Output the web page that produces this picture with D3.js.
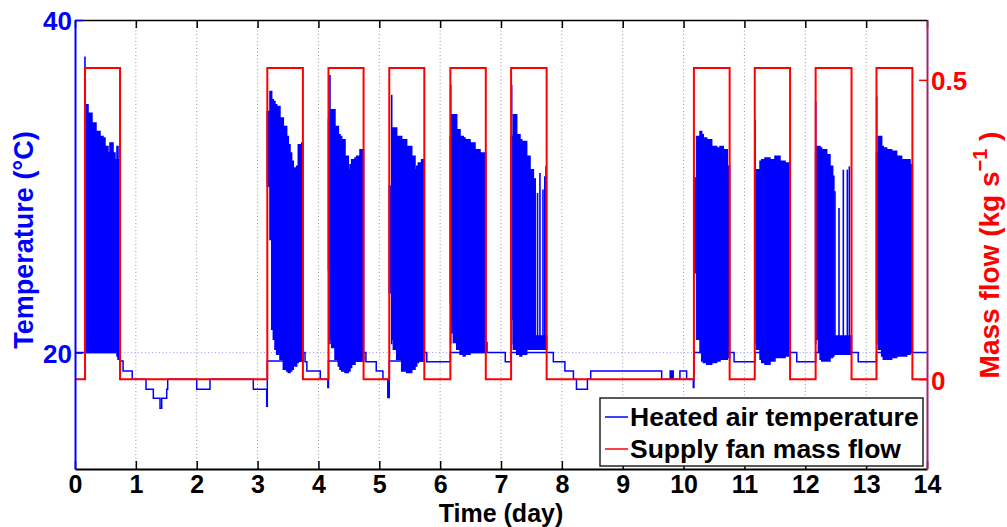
<!DOCTYPE html>
<html>
<head>
<meta charset="utf-8">
<style>
  body { margin: 0; background: #fff; }
  svg { display: block; font-family: 'Liberation Sans', Arial, sans-serif; font-weight: bold; }
</style>
</head>
<body>
<script src="https://d3js.org/d3.v7.min.js"></script>
<script>
// tick labels
const dayTicks = [0, 1, 2, 3, 4, 5, 6, 7, 8, 9, 10, 11, 12, 13, 14];
const tempTicks = [20, 40];
const flowTicks = [0, 0.5];

// supply fan on/off (day start, day end) and flow when on
const fanOn = [[0.165, 0.74], [3.16, 3.745], [4.165, 4.742], [5.164, 5.74], [6.168, 6.75],
               [7.166, 7.75], [10.17, 10.757], [11.17, 11.75], [12.17, 12.76], [13.17, 13.76]];
const fanFlow = 0.52;

// heated air temperature while fan is off (day, degC), stepwise
const tempSteps = [
  [0, 20.0], [0.165, 20.0], [0.74, 19.5], [0.79, 18.9], [0.94, 18.4], [1.167, 17.8],
  [1.287, 17.25], [1.397, 16.65], [1.425, 17.25], [1.507, 17.8], [1.523, 18.4], [2.0, 17.8],
  [2.218, 18.4], [2.93, 17.8], [3.15, 16.77], [3.16, 19.5], [3.745, 20.0], [3.78, 19.45],
  [3.81, 18.9], [4.03, 18.4], [4.155, 17.9], [4.165, 19.5], [4.742, 20.0], [4.78, 19.45],
  [4.95, 18.9], [5.06, 18.4], [5.14, 17.3], [5.164, 19.5], [5.74, 20.0], [5.78, 19.45],
  [6.168, 20.0], [6.75, 20.6], [6.77, 20.0], [7.07, 19.45], [7.166, 20.0], [7.75, 20.0],
  [7.86, 19.45], [8.05, 18.9], [8.19, 18.4], [8.24, 17.8], [8.42, 18.4], [8.474, 18.9],
  [9.64, 18.4], [9.78, 18.9], [9.80, 18.4], [9.82, 18.9], [9.83, 18.4], [9.94, 18.9],
  [10.05, 18.4], [10.16, 17.9], [10.17, 20.0], [10.757, 20.0], [10.83, 19.45], [11.17, 20.0],
  [11.75, 20.0], [11.86, 19.45], [12.17, 20.0], [12.76, 20.0], [12.87, 19.45], [13.17, 20.0],
  [13.76, 20.0], [14, 20.0]
];

// oscillation envelope while fan runs: (day, upper degC, lower degC)
const run0 = [[0.164, 34.9, 20.0], [0.181, 34.9, 20.0], [0.214, 34.4, 20.0], [0.279, 33.8, 20.0],
  [0.345, 33.3, 20.0], [0.411, 33.0, 20.0], [0.46, 32.9, 20.0], [0.493, 32.4, 20.0],
  [0.542, 32.0, 20.0], [0.575, 32.6, 20.0], [0.625, 32.0, 20.0], [0.657, 31.6, 20.0],
  [0.69, 32.4, 19.8], [0.707, 31.6, 19.6], [0.74, 32.5, 19.5]];
const run3 = [[3.16, 34.5, 30.0], [3.204, 35.7, 26.8], [3.232, 35.2, 21.4], [3.259, 35.1, 20.8],
  [3.286, 34.9, 20.2], [3.314, 34.8, 19.9], [3.368, 34.1, 19.6], [3.423, 33.6, 19.0],
  [3.478, 33.0, 18.9], [3.505, 32.5, 18.8], [3.533, 32.0, 18.9], [3.56, 31.5, 19.0],
  [3.587, 31.1, 19.2], [3.642, 31.2, 19.4], [3.669, 32.5, 19.5], [3.725, 32.6, 19.5], [3.745, 32.3, 19.5]];
const run4 = [[4.165, 34.0, 25.0], [4.195, 34.6, 20.8], [4.218, 34.6, 20.3], [4.272, 33.6, 19.6],
  [4.327, 33.1, 19.2], [4.354, 33.0, 19.0], [4.382, 32.8, 18.9], [4.437, 31.8, 18.8],
  [4.491, 31.0, 18.9], [4.519, 31.3, 19.1], [4.546, 31.6, 19.3], [4.601, 31.7, 19.5],
  [4.628, 31.8, 19.5], [4.683, 32.2, 19.5], [4.742, 32.1, 19.5]];
const run5 = [[5.164, 30.0, 23.6], [5.204, 33.5, 20.8], [5.231, 33.5, 20.2], [5.286, 33.0, 19.6],
  [5.368, 32.8, 18.9], [5.45, 32.4, 18.8], [5.533, 31.8, 19.0], [5.587, 31.0, 19.2],
  [5.615, 31.2, 19.4], [5.642, 31.4, 19.5], [5.696, 31.6, 19.5], [5.74, 31.5, 19.5]];
const run6 = [[6.168, 33.0, 23.0], [6.19, 34.3, 21.2], [6.217, 34.3, 20.6], [6.272, 33.4, 20.2],
  [6.327, 33.0, 19.9], [6.381, 32.9, 19.8], [6.409, 32.8, 19.9], [6.491, 32.6, 20.0],
  [6.573, 32.2, 20.0], [6.655, 32.0, 20.0], [6.75, 31.9, 20.0]];
const run7 = [[7.166, 33.0, 22.0], [7.203, 34.3, 20.2], [7.258, 33.1, 19.9], [7.312, 32.8, 19.8],
  [7.34, 32.7, 19.9], [7.422, 31.8, 20.2], [7.477, 31.0, 20.2], [7.532, 30.4, 20.2],
  [7.56, 21.0, 20.2], [7.75, 21.0, 20.2]];
const run10 = [[10.17, 30.5, 24.8], [10.215, 33.0, 20.8], [10.27, 33.3, 20.0], [10.298, 33.1, 19.5],
  [10.324, 32.9, 19.4], [10.38, 32.8, 19.3], [10.462, 32.4, 19.4], [10.544, 32.3, 19.5],
  [10.599, 32.4, 19.6], [10.653, 32.2, 19.6], [10.719, 31.2, 19.7], [10.757, 31.2, 19.7]];
const run11 = [[11.17, 31.0, 22.0], [11.202, 31.0, 20.2], [11.256, 31.5, 19.6], [11.284, 31.6, 19.4],
  [11.338, 31.7, 19.3], [11.42, 31.6, 19.5], [11.502, 31.8, 19.7], [11.585, 31.5, 19.7],
  [11.667, 31.4, 19.8], [11.75, 31.2, 19.8]];
const run12 = [[12.17, 32.0, 22.0], [12.188, 32.4, 20.8], [12.215, 32.4, 20.0], [12.243, 32.3, 19.6],
  [12.27, 32.2, 19.5], [12.352, 31.9, 19.5], [12.406, 31.2, 19.7], [12.45, 30.6, 19.8],
  [12.47, 21.0, 19.9], [12.76, 21.0, 19.9]];
const run13 = [[13.17, 32.0, 22.0], [13.2, 33.0, 20.2], [13.255, 32.4, 19.8], [13.282, 32.3, 19.6],
  [13.337, 32.2, 19.6], [13.419, 32.1, 19.7], [13.501, 31.8, 19.8], [13.583, 31.6, 19.8],
  [13.666, 31.6, 19.9], [13.721, 31.3, 20.0], [13.76, 31.3, 20.0]];

// isolated peaks (day, degC)
const tempPeaks = [[0.164, 37.8], [4.19, 36.7], [5.204, 35.5], [6.173, 36.1], [7.175, 36.1],
  [7.56, 30.5], [7.60, 29.6], [7.64, 30.8], [7.69, 29.8], [7.72, 30.6], [7.74, 31.2],
  [11.174, 34.0], [12.171, 35.1], [12.488, 29.7], [12.554, 28.7], [12.625, 31.0],
  [12.691, 31.0], [12.724, 31.2], [13.173, 35.4]];

const margin = { top: 20, right: 80, bottom: 58, left: 75 };
const width = 1007 - margin.left - margin.right;
const height = 527 - margin.top - margin.bottom;

const blue = '#0000ff', red = '#ff0000';

const svg = d3.select('body').append('svg')
  .attr('width', 1007)
  .attr('height', 527);
const g = svg.append('g').attr('transform', `translate(${margin.left},${margin.top})`);

const x = d3.scaleLinear().domain([0, 14]).range([0, width]);
const yT = d3.scaleLinear().domain([13, 40]).range([height, 0]);
const yF = d3.scaleLinear().domain([-0.15, 0.6]).range([height, 0]);

// grid
g.append('g').selectAll('line')
  .data(dayTicks.slice(1, -1))
  .join('line')
  .attr('x1', d => x(d)).attr('x2', d => x(d))
  .attr('y1', 0).attr('y2', height)
  .attr('stroke', '#999').attr('stroke-width', 1).attr('stroke-dasharray', '1,2.5');
g.append('line')
  .attr('x1', 0).attr('x2', width)
  .attr('y1', yT(20)).attr('y2', yT(20))
  .attr('stroke', '#9a9aff').attr('stroke-width', 1).attr('stroke-dasharray', '1,2.5');

// temperature
const stepLine = d3.line().x(d => x(d[0])).y(d => yT(d[1])).curve(d3.curveStepAfter);
g.append('path')
  .attr('d', stepLine(tempSteps))
  .attr('fill', 'none').attr('stroke', blue).attr('stroke-width', 1.5);

const band = d3.area()
  .x(d => x(d[0])).y0(d => yT(d[2])).y1(d => yT(d[1]))
  .curve(d3.curveStepAfter);
g.append('g').selectAll('path')
  .data([run0, run3, run4, run5, run6, run7, run10, run11, run12, run13])
  .join('path')
  .attr('d', band)
  .attr('fill', blue).attr('stroke', blue).attr('stroke-width', 1.5);

g.append('g').selectAll('line')
  .data(tempPeaks)
  .join('line')
  .attr('x1', d => x(d[0])).attr('x2', d => x(d[0]))
  .attr('y1', yT(20.5)).attr('y2', d => yT(d[1]))
  .attr('stroke', blue).attr('stroke-width', 1.6);

// fan mass flow
const flowPts = [[0, 0]];
fanOn.forEach(([s, e]) => { flowPts.push([s, 0], [s, fanFlow], [e, fanFlow], [e, 0]); });
flowPts.push([14, 0]);
g.append('path')
  .attr('d', d3.line().x(d => x(d[0])).y(d => yF(d[1]))(flowPts))
  .attr('fill', 'none').attr('stroke', red).attr('stroke-width', 2);

// axes
const fontSize = '26px';
const xAxis = g.append('g').attr('transform', `translate(0,${height})`)
  .call(d3.axisBottom(x).tickValues(dayTicks).tickFormat(d3.format('d'))
    .tickSizeInner(-8).tickSizeOuter(0).tickPadding(6.5));
xAxis.select('.domain').attr('stroke', '#000').attr('stroke-width', 2);
xAxis.selectAll('.tick line').attr('stroke', '#000').attr('stroke-width', 1.5);
xAxis.selectAll('text').attr('font-size', '25px').attr('font-family', null).attr('fill', '#000');

const topAxis = g.append('g')
  .call(d3.axisTop(x).tickValues(dayTicks).tickFormat('').tickSizeInner(-8).tickSizeOuter(0));
topAxis.select('.domain').attr('stroke', '#000').attr('stroke-width', 1.5);
topAxis.selectAll('.tick line').attr('stroke', '#000').attr('stroke-width', 1.5);

const leftAxis = g.append('g')
  .call(d3.axisLeft(yT).tickValues(tempTicks).tickSizeInner(-8).tickSizeOuter(0).tickPadding(3));
leftAxis.select('.domain').attr('stroke', blue).attr('stroke-width', 2);
leftAxis.selectAll('.tick line').attr('stroke', blue).attr('stroke-width', 1.5);
leftAxis.selectAll('text').attr('font-size', fontSize).attr('font-family', null)
  .attr('fill', blue).attr('dy', '0.38em');

const rightAxis = g.append('g').attr('transform', `translate(${width},0)`)
  .call(d3.axisRight(yF).tickValues(flowTicks).tickFormat(d => d === 0 ? '0' : d3.format('.1f')(d))
    .tickSizeInner(-8).tickSizeOuter(0).tickPadding(4));
rightAxis.select('.domain').attr('stroke', '#a3226e').attr('stroke-width', 2);
rightAxis.selectAll('.tick line').attr('stroke', red).attr('stroke-width', 1.5);
rightAxis.selectAll('text').attr('font-size', fontSize).attr('font-family', null)
  .attr('fill', red).attr('dy', '0.38em');

// axis titles
svg.append('text')
  .attr('x', margin.left + width / 2).attr('y', 521.5)
  .attr('text-anchor', 'middle').attr('font-size', '25px').attr('fill', '#000')
  .text('Time (day)');
svg.append('text')
  .attr('transform', 'translate(33,240) rotate(-90)')
  .attr('text-anchor', 'middle').attr('font-size', '27px').attr('fill', blue)
  .text('Temperature (°C)');
const flowLabel = svg.append('text')
  .attr('transform', 'translate(999,255) rotate(-90)')
  .attr('text-anchor', 'middle').attr('font-size', '28px').attr('fill', red);
flowLabel.append('tspan').text('Mass flow (kg s');
flowLabel.append('tspan').attr('dy', -12).attr('font-size', '20px').text('−1');
flowLabel.append('tspan').attr('dy', 12).text(' )');

// legend
const legend = svg.append('g').attr('transform', 'translate(600,398)');
legend.append('rect')
  .attr('width', 323).attr('height', 68)
  .attr('fill', '#fff').attr('stroke', '#222').attr('stroke-width', 1.5);
const legendItems = [['Heated air temperature', blue], ['Supply fan mass flow', red]];
legend.selectAll('g.item')
  .data(legendItems)
  .join('g')
  .attr('class', 'item')
  .attr('transform', (d, i) => `translate(0,${19 + i * 32})`)
  .each(function ([label, color]) {
    const it = d3.select(this);
    it.append('line').attr('x1', 5).attr('x2', 28).attr('y1', 0).attr('y2', 0)
      .attr('stroke', color).attr('stroke-width', 1.5);
    it.append('text').attr('x', 30).attr('y', 9)
      .attr('font-size', '26.5px').attr('fill', '#000').text(label);
  });
</script>
</body>
</html>
